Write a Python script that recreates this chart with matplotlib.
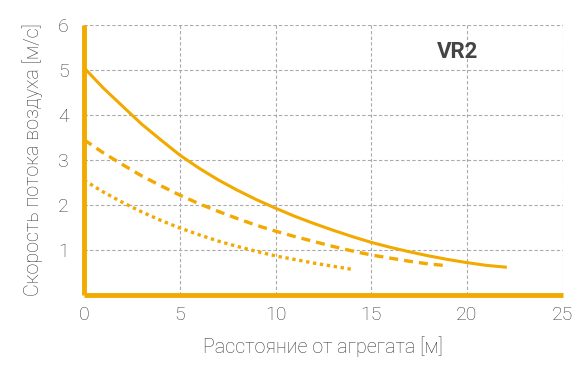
import matplotlib.pyplot as plt

plt.rcParams['font.family'] = ['Roboto', 'DejaVu Sans']

orange = '#F2A900'
grey_text = '#3c3c3c'

# readings from the picture
x_solid = list(range(0, 23))
y_solid = [5.05, 4.6, 4.2, 3.8, 3.45, 3.11, 2.82, 2.56, 2.33, 2.12, 1.93,
           1.75, 1.59, 1.44, 1.30, 1.17, 1.06, 0.96, 0.87, 0.79, 0.72, 0.66, 0.62]

x_dashed = list(range(0, 20))
y_dashed = [3.45, 3.16, 2.9, 2.65, 2.43, 2.22, 2.03, 1.86, 1.70, 1.55, 1.42,
            1.30, 1.19, 1.08, 0.98, 0.89, 0.82, 0.75, 0.69, 0.65]

x_dotted = list(range(0, 15))
y_dotted = [2.55, 2.29, 2.06, 1.85, 1.66, 1.49, 1.34, 1.20, 1.08, 0.97, 0.87,
            0.79, 0.71, 0.64, 0.57]

x_ticks = [0, 5, 10, 15, 20, 25]
y_ticks = [1, 2, 3, 4, 5, 6]

fig = plt.figure(figsize=(5.88, 3.73), dpi=100)
ax = fig.add_axes([0.143, 0.209, 0.814, 0.724])

ax.plot(x_solid, y_solid, color=orange, lw=2.2)
ax.plot(x_dashed, y_dashed, color=orange, lw=2.4, dashes=(2.7, 1.8))
ax.plot(x_dotted, y_dotted, color=orange, lw=2.4, dashes=(1, 1.1))

ax.set_xlim(0, 25)
ax.set_ylim(0, 6)
ax.set_xticks(x_ticks)
ax.set_yticks(y_ticks)
ax.tick_params(length=0, labelsize=14, labelcolor=grey_text)
ax.tick_params(axis='x', pad=8)
ax.tick_params(axis='y', pad=11)
for lab in ax.get_xticklabels() + ax.get_yticklabels():
    lab.set_fontweight('light')

ax.grid(True, color='#aaaaaa', ls=(0, (3, 2)), lw=0.8)
ax.set_axisbelow(True)

for s in ['top', 'right']:
    ax.spines[s].set_visible(False)
for s in ['left', 'bottom']:
    ax.spines[s].set_color(orange)
    ax.spines[s].set_linewidth(3.5)
    ax.spines[s].set_capstyle('butt')

ax.set_xlabel('Расстояние от агрегата [м]', fontsize=14.2, color=grey_text,
              fontweight='light', labelpad=9)
ax.set_ylabel('Скорость потока воздуха [м/с]', fontsize=14.2, color=grey_text,
              fontweight='light', labelpad=11)

ax.text(19.5, 5.4, 'VR2', fontsize=16, fontweight='bold', color='#444444',
        ha='center', va='center')

fig.savefig('out.png', dpi=100)
